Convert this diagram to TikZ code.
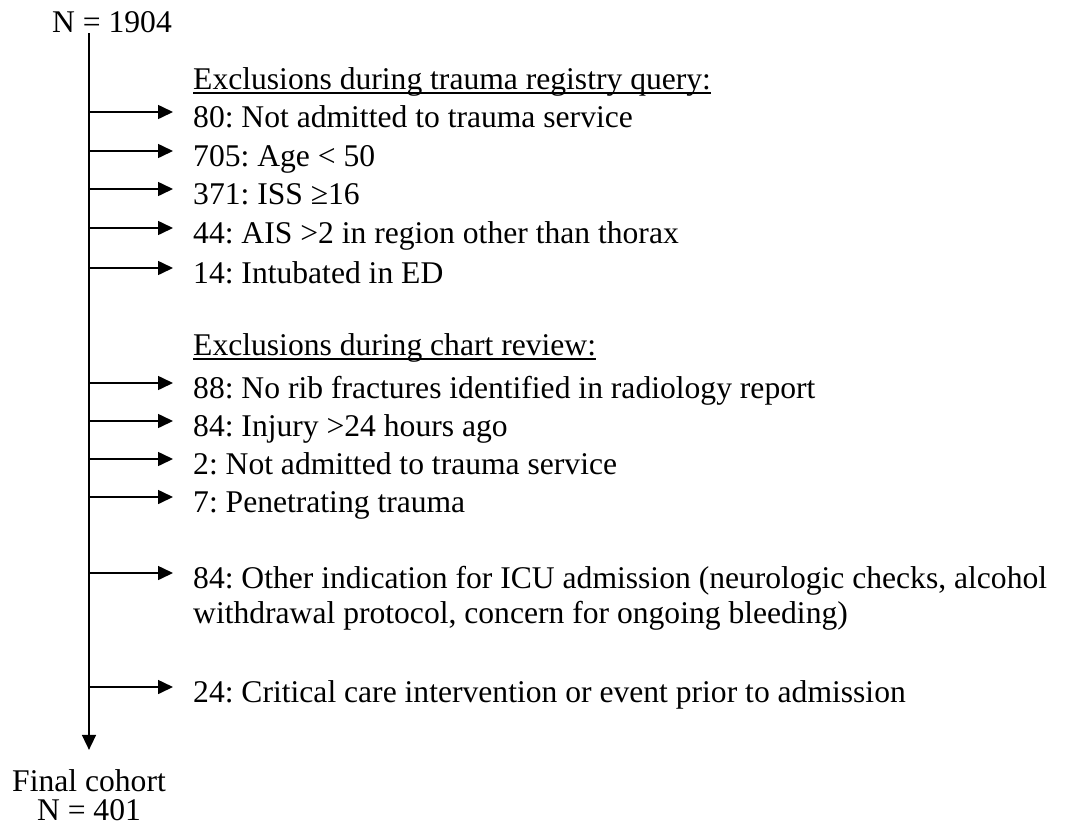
\documentclass[tikz,border=0pt]{standalone}
\usepackage{fontspec}
\setmainfont{Liberation Serif}
\usetikzlibrary{arrows.meta,positioning}
\frenchspacing
\newsavebox\headbox
\newcommand{\ulhead}[1]{\sbox\headbox{#1}\rlap{\rule[-4.5pt]{\wd\headbox}{1.5pt}}\usebox\headbox}

\begin{document}
\begin{tikzpicture}[
    x=1pt, y=-1pt,
    txt/.style={inner sep=0pt, font=\fontsize{31.6}{35}\selectfont},
    excl/.style={txt, anchor=west, text height=32pt, text depth=2pt},
    arrow/.style={-{Triangle[length=15pt,width=14pt]}, line width=1.6pt}
]
\useasboundingbox (0,0) rectangle (1068,833);

\node[txt, anchor=base] (start) at (112,32) {N = 1904};
\coordinate (trunk) at (89,33);

\node[excl] (qhead) at (193,74) {\ulhead{Exclusions during trauma registry query:}};
\node[excl] (q1) at (193,112) {80: Not admitted to trauma service};
\node[excl] (q2) at (193,151) {705: Age < 50};
\node[excl] (q3) at (193,189) {371: ISS ≥16};
\node[excl] (q4) at (193,228) {44: AIS >2 in region other than thorax};
\node[excl] (q5) at (193,268) {14: Intubated in ED};

\node[excl] (chead) at (193,340) {\ulhead{Exclusions during chart review:}};
\node[excl] (c1) at (193,383) {88: No rib fractures identified in radiology report};
\node[excl] (c2) at (193,421) {84: Injury >24 hours ago};
\node[excl] (c3) at (193,459) {2: Not admitted to trauma service};
\node[excl] (c4) at (193,497) {7: Penetrating trauma};
\node[txt, anchor=base west, align=left] (c5) at (193,623) {84: Other indication for ICU admission (neurologic checks, alcohol\\withdrawal protocol, concern for ongoing bleeding)};
\node[excl] (c6) at (193,687) {24: Critical care intervention or event prior to admission};

\node[txt, anchor=base, align=center, font=\fontsize{31.6}{28.5}\selectfont] (final) at (89,820) {Final cohort\\N = 401};

\draw[arrow, shorten >=19.5pt] (trunk) -- (trunk |- final.north);
\foreach \n in {q1,q2,q3,q4,q5,c1,c2,c3,c4,c6}
    \draw[arrow] (trunk |- \n.west) -- ([xshift=-20pt]\n.west);
\draw[arrow] ([yshift=50pt]trunk |- c5.base) -- ([shift={(-20pt,50pt)}]c5.base west);
\end{tikzpicture}
\end{document}
